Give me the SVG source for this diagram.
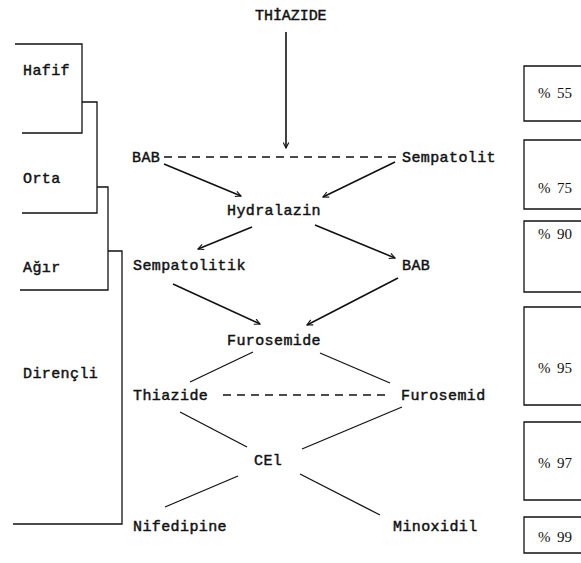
<svg xmlns="http://www.w3.org/2000/svg" width="581" height="563" viewBox="0 0 581 563">
<style>
.t{font-family:"Liberation Mono","DejaVu Sans Mono",monospace;font-size:15px;fill:#111;stroke:#111;stroke-width:0.45;letter-spacing:0.4px}
.p{font-family:"Liberation Serif","DejaVu Serif",serif;font-size:15px;fill:#111}
.ln{stroke:#111;stroke-width:1.3;fill:none}
.ar{stroke:#111;stroke-width:1.6;fill:none;marker-end:url(#ah)}
.ds{stroke:#111;stroke-width:1.3;fill:none;stroke-dasharray:8 6}
.bx{stroke:#111;stroke-width:1.3;fill:none}
</style>
<defs>
<marker id="ah" viewBox="0 0 10 10" refX="9" refY="5" markerWidth="7" markerHeight="7" markerUnits="userSpaceOnUse" orient="auto">
<path d="M1,1 L9,5 L1,9" fill="none" stroke="#111" stroke-width="1.6"/>
</marker>
</defs>
<rect width="581" height="563" fill="#fff"/>

<g id="severity">
<g id="hafif"><path class="ln" d="M15,44 H82 V133 H22"/><text class="t" x="23" y="75">Hafif</text></g>
<g id="orta"><path class="ln" d="M82,102 H97 V213 H22"/><text class="t" x="23" y="183">Orta</text></g>
<g id="agir"><path class="ln" d="M97,187 H108 V290 H20"/><text class="t" x="23" y="272">Ağır</text></g>
<g id="direncli"><path class="ln" d="M108,251 H122 V524 H13"/><text class="t" x="23" y="378">Dirençli</text></g>
</g>

<g id="percent">
<g id="p55"><path class="bx" d="M590,66 H524 V121 H590"/><text class="p" y="98"><tspan x="538">%</tspan><tspan x="557">55</tspan></text></g>
<g id="p75"><path class="bx" d="M590,140 H524 V209 H590"/><text class="p" y="193"><tspan x="538">%</tspan><tspan x="557">75</tspan></text></g>
<g id="p90"><path class="bx" d="M590,221 H524 V292 H590"/><text class="p" y="239"><tspan x="538">%</tspan><tspan x="557">90</tspan></text></g>
<g id="p95"><path class="bx" d="M590,307 H524 V405 H590"/><text class="p" y="373"><tspan x="538">%</tspan><tspan x="557">95</tspan></text></g>
<g id="p97"><path class="bx" d="M590,422 H524 V500 H590"/><text class="p" y="468"><tspan x="538">%</tspan><tspan x="557">97</tspan></text></g>
<g id="p99"><path class="bx" d="M590,517 H524 V553 H590"/><text class="p" y="542"><tspan x="538">%</tspan><tspan x="557">99</tspan></text></g>
</g>

<g id="n-thiazide-top"><text class="t" x="255" y="20" textLength="72">THİAZIDE</text></g>
<g id="n-bab1"><text class="t" x="132" y="162">BAB</text></g>
<g id="n-sempatolit"><text class="t" x="402" y="162">Sempatolit</text></g>
<g id="n-hydralazin"><text class="t" x="227" y="215">Hydralazin</text></g>
<g id="n-sempatolitik"><text class="t" x="133" y="270">Sempatolitik</text></g>
<g id="n-bab2"><text class="t" x="402" y="270">BAB</text></g>
<g id="n-furosemide"><text class="t" x="227" y="345">Furosemide</text></g>
<g id="n-thiazide"><text class="t" x="133" y="400">Thiazide</text></g>
<g id="n-furosemid"><text class="t" x="401" y="400">Furosemid</text></g>
<g id="n-cei"><text class="t" x="254" y="465">CEl</text></g>
<g id="n-nifedipine"><text class="t" x="133" y="531">Nifedipine</text></g>
<g id="n-minoxidil"><text class="t" x="393" y="531">Minoxidil</text></g>

<g id="connectors">
<line class="ar" x1="286" y1="32" x2="286" y2="148"/>
<line class="ds" x1="164" y1="157" x2="398" y2="157"/>
<line class="ar" x1="164" y1="164" x2="241" y2="196"/>
<line class="ar" x1="395" y1="162" x2="323" y2="197"/>
<line class="ar" x1="252" y1="227" x2="198" y2="249"/>
<line class="ar" x1="315" y1="225" x2="395" y2="258"/>
<line class="ar" x1="173" y1="284" x2="260" y2="324"/>
<line class="ar" x1="398" y1="278" x2="307" y2="325"/>
<line class="ln" x1="253" y1="352" x2="190" y2="382"/>
<line class="ln" x1="320" y1="353" x2="390" y2="383"/>
<line class="ds" x1="223" y1="395" x2="388" y2="395"/>
<line class="ln" x1="180" y1="412" x2="247" y2="447"/>
<line class="ln" x1="402" y1="407" x2="302" y2="449"/>
<line class="ln" x1="238" y1="476" x2="165" y2="507"/>
<line class="ln" x1="300" y1="474" x2="380" y2="515"/>
</g>
</svg>
